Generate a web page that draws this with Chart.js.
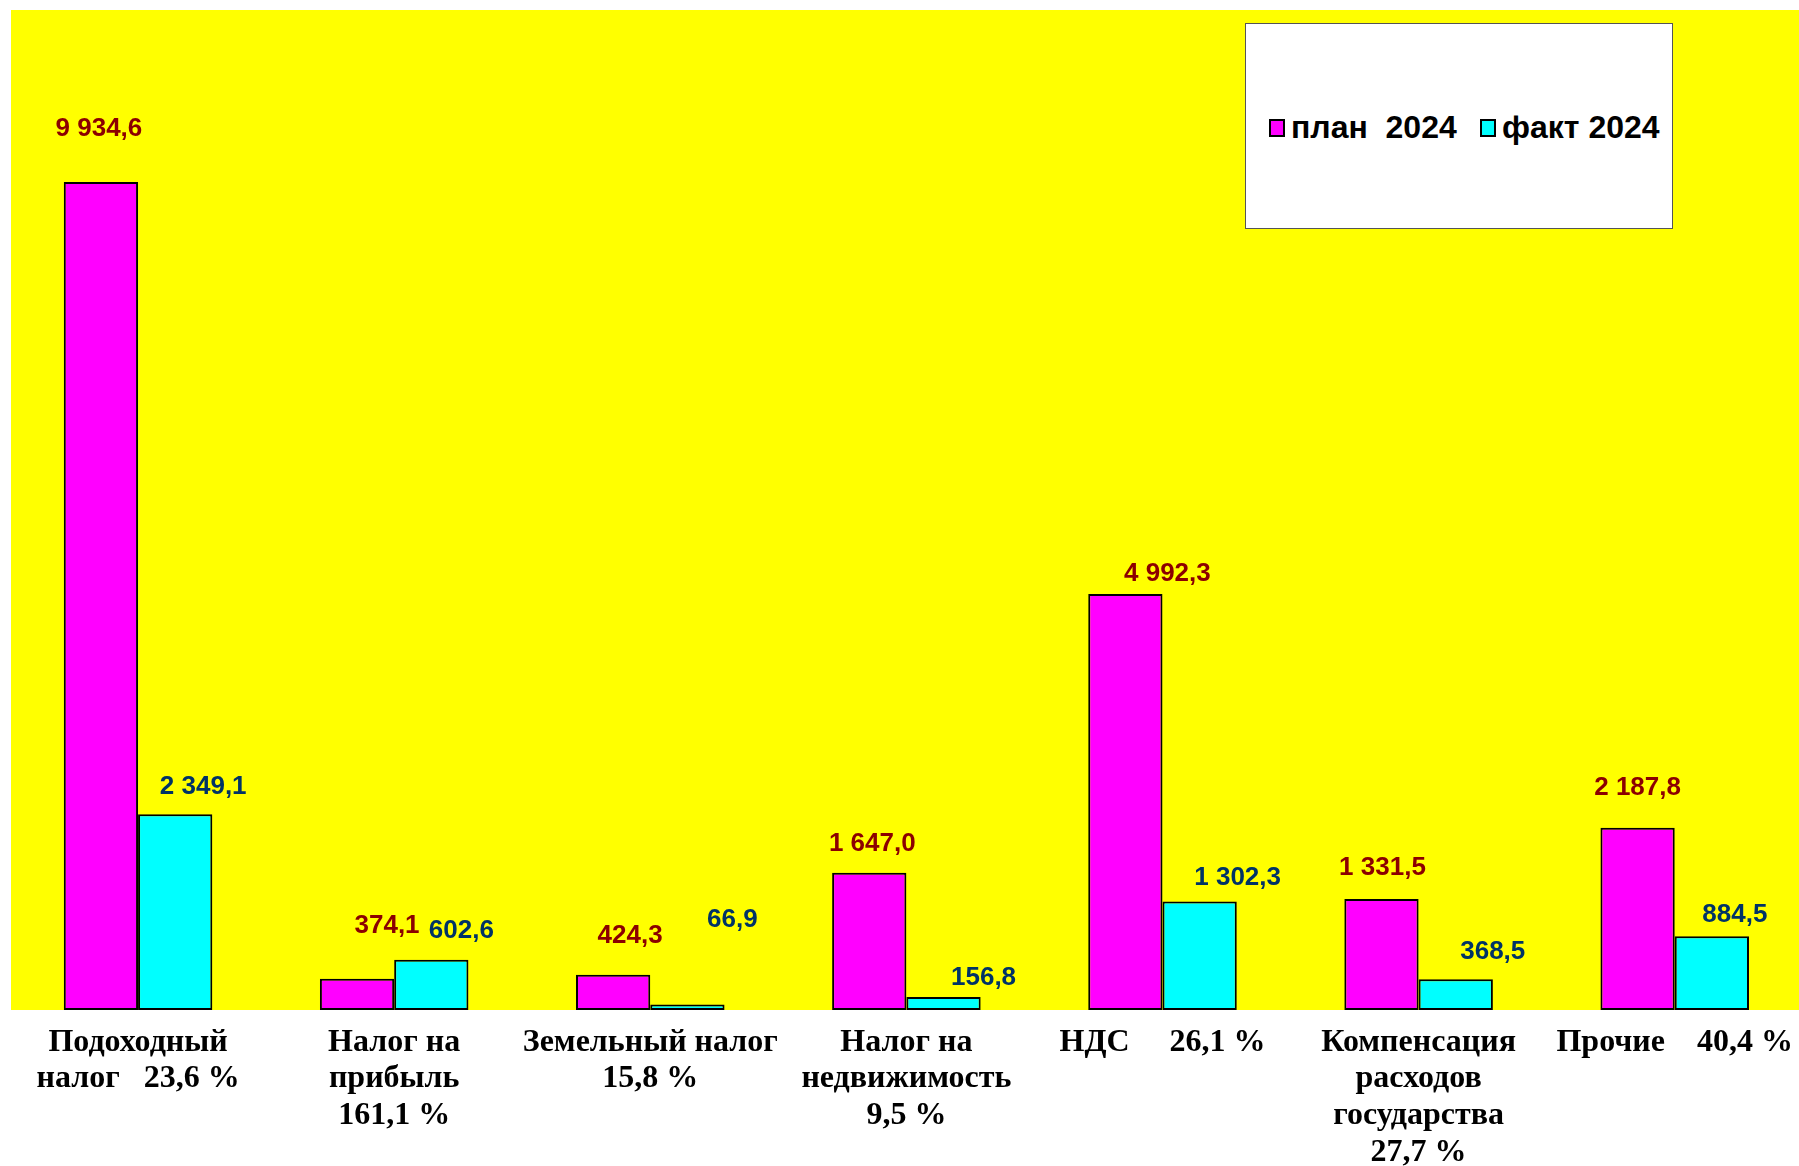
<!DOCTYPE html>
<html>
<head>
<meta charset="utf-8">
<script src="https://cdn.jsdelivr.net/npm/chart.js@4.4.1/dist/chart.umd.min.js"></script>
<style>
  html, body { margin: 0; padding: 0; background: #ffffff; overflow: hidden; }
  #wrap { position: relative; width: 1799px; height: 1166px; overflow: hidden; }
  #c { position: absolute; left: 0; top: 0; }
  #legend {
    position: absolute; left: 1245px; top: 23px; width: 426px; height: 204px;
    background: #ffffff; border: 1px solid #555555;
    font-family: "Liberation Sans", Arial, sans-serif; font-weight: bold; font-size: 32px; color: #000;
  }
  .item { position: absolute; top: 86px; height: 34px; line-height: 34px; white-space: pre; }
  .sw { display: inline-block; width: 12px; height: 14px; border: 2px solid #000; vertical-align: 1px; margin-right: 6px; }
</style>
</head>
<body>
<div id="wrap">
  <canvas id="c" width="1807" height="1166"></canvas>
  <div id="legend">
    <div class="item" style="left:23px"><span class="sw" style="background:#FF00FF"></span>план  2024</div>
    <div class="item" style="left:234px"><span class="sw" style="background:#00FFFF"></span>факт 2024</div>
  </div>
</div>
<script>
// ---- data ----
const categories = [
  ["Подоходный", "налог"],
  ["Налог на", "прибыль"],
  ["Земельный налог"],
  ["Налог на", "недвижимость"],
  ["НДС"],
  ["Компенсация", "расходов", "государства"],
  ["Прочие"]
];
const percents = ["23,6 %", "161,1 %", "15,8 %", "9,5 %", "26,1 %", "27,7 %", "40,4 %"];
const plan2024 = [9934.6, 374.1, 424.3, 1647.0, 4992.3, 1331.5, 2187.8];
const fact2024 = [2349.1, 602.6, 66.9, 156.8, 1302.3, 368.5, 884.5];
const seriesNames = ["план  2024", "факт 2024"];

// how percentage is attached to the label: same line (true) or new line (false)
const pctSameLine = [true, false, false, false, true, false, true];
const pctGap = ["\u00A0\u00A0\u00A0", "", "", "", "\u00A0\u00A0\u00A0\u00A0\u00A0", "", "\u00A0\u00A0\u00A0\u00A0"];

// manual label nudges (px) relative to bar top: [dx, dy]
const planLabelOffset = [[-2,-53],[30,-53],[17,-39],[3,-29],[42,-20],[1,-31],[0,-40]];
const factLabelOffset = [[28,-27],[30,-29],[45,-85],[40,-19],[38,-24],[37,-27],[23,-21]];

const tickLabels = categories.map((lines, i) => {
  const l = lines.slice();
  if (pctSameLine[i]) l[l.length - 1] = l[l.length - 1] + pctGap[i] + percents[i];
  else l.push(percents[i]);
  return l;
});

function fmt(v) {
  const s = v.toFixed(1).split(".");
  const intPart = s[0].replace(/\B(?=(\d{3})+(?!\d))/g, " ");
  return intPart + "," + s[1];
}

const bgPlugin = {
  id: "bg",
  beforeDraw(chart) {
    const { ctx, chartArea: a } = chart;
    ctx.save();
    ctx.fillStyle = "#FFFFFF";
    ctx.fillRect(0, 0, chart.width, chart.height);
    ctx.fillStyle = "#FFFF00";
    ctx.fillRect(11, a.top, chart.width - 11, a.bottom - a.top);
    ctx.restore();
  }
};

const labelPlugin = {
  id: "vals",
  afterDatasetsDraw(chart) {
    const { ctx } = chart;
    ctx.save();
    ctx.font = "bold 26px 'Liberation Sans', Arial, sans-serif";
    ctx.textAlign = "center";
    ctx.textBaseline = "middle";
    chart.data.datasets.forEach((ds, di) => {
      const meta = chart.getDatasetMeta(di);
      const offs = di === 0 ? planLabelOffset : factLabelOffset;
      ctx.fillStyle = di === 0 ? "#8B0000" : "#003366";
      meta.data.forEach((bar, i) => {
        ctx.fillText(fmt(ds.data[i]), bar.x + offs[i][0], bar.y + offs[i][1]);
      });
    });
    ctx.restore();
  }
};

new Chart(document.getElementById("c"), {
  type: "bar",
  data: {
    labels: tickLabels,
    datasets: [
      { label: seriesNames[0], data: plan2024, backgroundColor: "#FF00FF", borderColor: "#000000", borderWidth: 2, borderSkipped: false },
      { label: seriesNames[1], data: fact2024, backgroundColor: "#00FFFF", borderColor: "#000000", borderWidth: 2, borderSkipped: false }
    ]
  },
  options: {
    responsive: false,
    animation: false,
    devicePixelRatio: 1,
    layout: { padding: { left: 10, top: 10, right: 0, bottom: 0 } },
    plugins: { legend: { display: false }, tooltip: { enabled: false } },
    datasets: { bar: { categoryPercentage: 0.58, barPercentage: 1.0 } },
    scales: {
      x: {
        grid: { display: false, drawTicks: false },
        border: { display: false },
        ticks: {
          color: "#000000",
          maxRotation: 0, minRotation: 0, autoSkip: false,
          padding: 14,
          font: { family: "'Liberation Serif', 'Times New Roman', serif", weight: "bold", size: 32, lineHeight: 1.15 }
        },
        afterFit(scale) { scale.height = 156; }
      },
      y: {
        display: false,
        min: 0, max: 12000
      }
    }
  },
  plugins: [bgPlugin, labelPlugin]
});
</script>
</body>
</html>
